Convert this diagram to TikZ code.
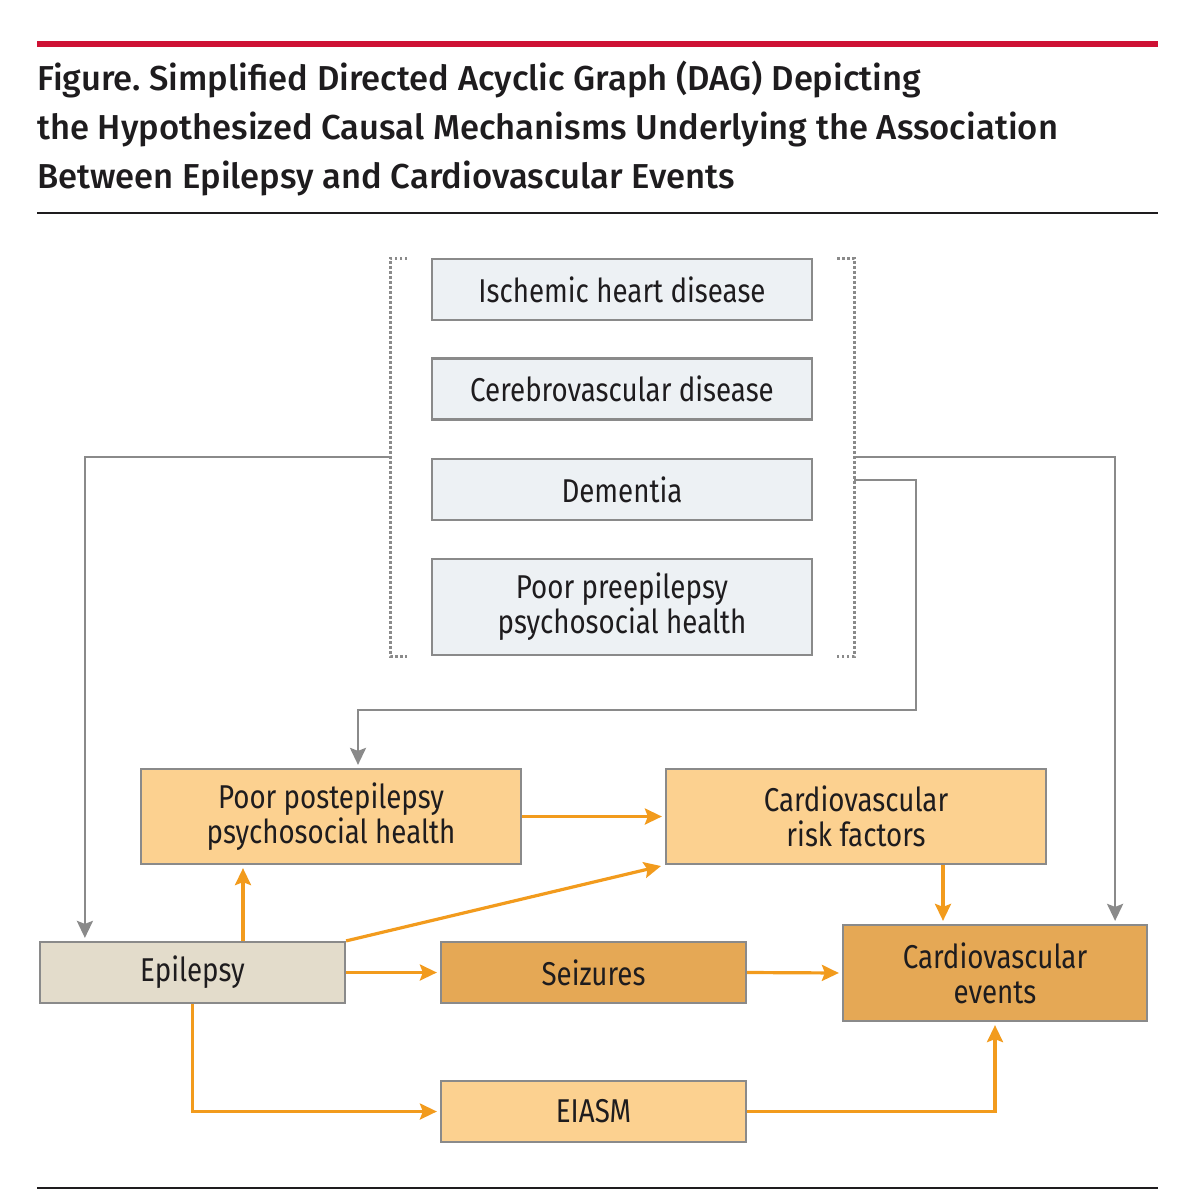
\documentclass[tikz,border=0pt]{standalone}
\usepackage{fontspec}
\setmainfont{Fira Sans Medium}
\newfontfamily\boxfont[FakeStretch=0.84]{Fira Sans}
\usetikzlibrary{arrows.meta,calc}
\frenchspacing
\definecolor{jred}{RGB}{206,17,52}
\definecolor{txt}{RGB}{30,28,30}
\definecolor{edgegray}{RGB}{138,138,138}
\definecolor{lightbox}{RGB}{237,241,244}
\definecolor{lorange}{RGB}{252,209,144}
\definecolor{dorange}{RGB}{229,168,85}
\definecolor{epifill}{RGB}{227,220,203}
\definecolor{orng}{RGB}{242,155,29}
\tikzset{
  box/.style={draw=edgegray, line width=2.2pt, inner sep=0pt, align=center, text=txt,
    font=\boxfont\fontsize{33}{35}\selectfont},
  wide/.style={box, minimum width=380pt},
  narrow/.style={box, minimum width=305pt},
  short/.style={minimum height=61pt},
  tall/.style={minimum height=95pt},
  oarr/.style={draw=orng, line width=3.2pt, -{Stealth[length=17pt,width=16pt,inset=3pt]}, shorten >=3pt},
  garr/.style={draw=edgegray, line width=2.6pt, -{Stealth[length=17pt,width=16pt,inset=3pt]}, shorten >=3pt},
  dotline/.style={draw=edgegray, line width=3pt, dash pattern=on 2.5pt off 2.5pt},
  titletext/.style={anchor=base west, inner sep=0pt, text=txt, font=\frenchspacing\fontsize{34.6}{40}\selectfont}
}
\begin{document}
\begin{tikzpicture}[x=1pt,y=-1pt]
\useasboundingbox (0,0) rectangle (1199,1200);
% header rules
\draw[jred, line width=6pt] (37,44) -- (1158,44);
\draw[txt, line width=2.5pt] (37,213) -- (1158,213);
\draw[txt, line width=2.5pt] (37,1188) -- (1158,1188);
% title
\node[titletext] (t1) at (37,90) {Figure. Simplified Directed Acyclic Graph (DAG) Depicting};
\node[titletext] (t2) at (37,139) {the Hypothesized Causal Mechanisms Underlying the Association};
\node[titletext] (t3) at (37,188) {Between Epilepsy and Cardiovascular Events};
% top group
\node[wide, short, fill=lightbox] (ihd) at (622,289.5) {Ischemic heart disease};
\node[wide, short, fill=lightbox] (cvd) at (622,389) {Cerebrovascular disease};
\node[wide, short, fill=lightbox] (dem) at (622,489.5) {Dementia};
\node[wide, minimum height=96pt, fill=lightbox] (pre) at (622,607) {Poor preepilepsy\\psychosocial health};
% brackets
\draw[dotline] (407,258) -- (390,258) -- (390,656) -- (407,656);
\draw[dotline] (837,258) -- (854,258) -- (854,656) -- (837,656);
\coordinate (bl) at (390,457);
\coordinate (br) at (854,457);
\coordinate (br2) at (854,480);
% lower nodes
\node[wide, tall, fill=lorange] (post) at (331,816.5) {Poor postepilepsy\\psychosocial health};
\node[wide, tall, fill=lorange] (crf) at (856,816.5) {Cardiovascular\\risk factors};
\node[narrow, short, fill=epifill] (epi) at (192.5,972.5) {Epilepsy};
\node[narrow, short, fill=dorange] (sei) at (593.5,972.5) {Seizures};
\node[box, minimum width=304pt, minimum height=96pt, fill=dorange] (cve) at (995,973) {Cardiovascular\\events};
\node[narrow, short, fill=lorange] (eiasm) at (593.5,1111.5) {EIASM};
% gray connectors
\coordinate (e2) at ($(epi.north west)+(46,0)$);
\coordinate (c2) at ($(cve.north east)+(-33,0)$);
\coordinate (d1) at (916,710);
\coordinate (p1) at ($(post.north)+(27,0)$);
\draw[garr] (bl) -| (e2);
\draw[garr] (br) -| (c2);
\draw[garr] (br2) -| (d1) -| (p1);
% orange connectors
\coordinate (e1) at ($(epi.north)+(50.5,0)$);
\coordinate (c1) at ($(crf.south)+(87,0)$);
\draw[oarr] (e1) -- (e1 |- post.south);
\draw[oarr, shorten >=4pt] (epi.north east) -- (crf.south west);
\draw[oarr] (post.east) -- (crf.west);
\draw[oarr] (epi.east) -- (sei.west);
\draw[oarr] (sei.east) -- (cve.west);
\draw[oarr] (c1) -- (c1 |- cve.north);
\draw[oarr] (epi.south) |- (eiasm.west);
\draw[oarr] (eiasm.east) -| (cve.south);
\end{tikzpicture}
\end{document}
